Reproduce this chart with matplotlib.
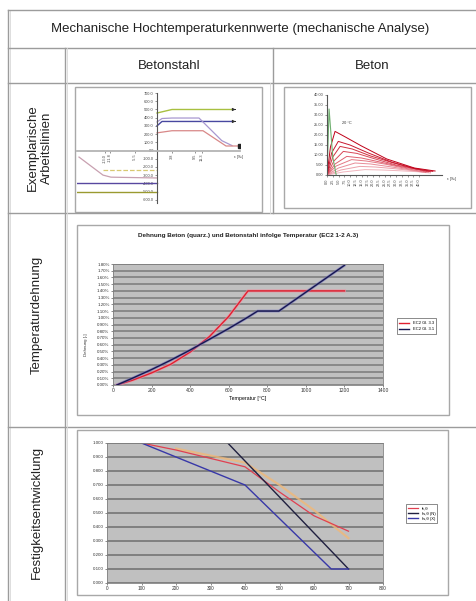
import matplotlib
matplotlib.use("Agg")
import matplotlib.pyplot as plt
from matplotlib.patches import Rectangle
import numpy as np

plt.rcParams['font.family'] = ['Liberation Sans', 'DejaVu Sans']

W, H = 476, 601

# ---------------- texts ----------------
title = "Mechanische Hochtemperaturkennwerte (mechanische Analyse)"
col_heads = ["Betonstahl", "Beton"]
row_heads = ["Exemplarische\nArbeitslinien", "Temperaturdehnung", "Festigkeitsentwicklung"]

# ---------------- Betonstahl stress-strain (tension / compression) ----------------
st_green_x = [0, 3.75, 18.75]
st_green_y = [457, 500, 500]
st_navy_x = [0, 1.25, 18.75]
st_navy_y = [300, 354, 354]
st_purple_x = [0, 1.25, 3.75, 10.5, 16.2, 18.75]
st_purple_y = [348, 390, 396, 396, 120, 60]
st_pink_x = [0, 3.75, 11.5, 17.25, 20.75]
st_pink_y = [215, 241, 241, 55, 55]
st_c_pink_x = [-19.5, -13.5, -11.5, 0]
st_c_pink_y = [-80, -300, -325, -335]
st_c_yellow_x = [-13.5, 0]
st_c_yellow_y = [-240, -240]
st_c_purple_x = [-20, 0]
st_c_purple_y = [-395, -395]
st_c_olive_x = [-20, 0]
st_c_olive_y = [-500, -500]
st_yticks = list(range(-600, 701, 100))
st_xticks = [-13.0, -11.75, -5.5, 3.75, 9.5, 11.25]
st_xticklabels = ["-13.0", "-11.8", "-5.5", "3.8", "9.5", "11.3"]

# ---------------- Beton stress-strain curves ----------------
bt_green_x = [0, 0.4, 0.9, 1.5, 2.5, 4.0]
bt_green_y = [0, 14, 33, 24, 9, 0]
bt_curves_x = [
    [0, 1.5, 3.5, 8, 15, 26, 38, 47],
    [0, 2.0, 4.9, 10, 18, 28, 38, 46],
    [0, 2.5, 5.7, 11, 19, 29, 39, 45],
    [0, 3.0, 7.1, 13, 21, 30, 40, 44],
    [0, 3.5, 8.6, 15, 23, 32, 40, 43],
    [0, 4.0, 10.7, 17, 25, 33, 41],
    [0, 5.0, 12.2, 19, 27, 35, 42],
    [0, 6.0, 14.3, 21, 29, 37, 43],
    [0, 7.0, 16.5, 24, 32, 40, 45],
]
bt_curves_y = [
    [0, 14, 21.8, 19, 14.5, 8, 3.5, 2.0],
    [0, 11, 16.8, 15, 11, 6.5, 3.2, 1.8],
    [0, 9, 14.3, 13, 9.5, 6, 3.0, 1.6],
    [0, 7, 11.8, 10.8, 8, 5, 2.8, 1.5],
    [0, 5.5, 9.3, 8.5, 6.5, 4.2, 2.5, 1.4],
    [0, 4.5, 7.7, 7, 5.5, 3.6, 1.8],
    [0, 3.5, 6.0, 5.5, 4.2, 2.8, 1.5],
    [0, 2.5, 4.3, 4.0, 3.2, 2.2, 1.2],
    [0, 1.5, 2.7, 2.5, 2.1, 1.6, 1.0],
]
bt_colors = ['#c00018', '#c81830', '#d03040', '#d84858', '#e06070',
             '#e47884', '#e88c98', '#eca0aa', '#f0b4bc']
bt_yticks = list(range(0, 41, 5))
bt_xticks = [2.5 * i for i in range(0, 17)]

# ---------------- Temperaturdehnung ----------------
td_title = "Dehnung Beton (quarz.) und Betonstahl infolge Temperatur (EC2 1-2 A.3)"
td_T_beton = [20, 100, 200, 300, 400, 500, 600, 700, 800, 900, 1000, 1100, 1200]
td_eps_beton = [0.00, 0.07, 0.18, 0.31, 0.49, 0.72, 1.02, 1.40, 1.40, 1.40, 1.40, 1.40, 1.40]
td_T_stahl = [20, 100, 200, 300, 400, 500, 600, 700, 750, 860, 900, 1000, 1100, 1200]
td_eps_stahl = [0.00, 0.10, 0.23, 0.37, 0.52, 0.68, 0.84, 1.01, 1.10, 1.10, 1.18, 1.38, 1.58, 1.78]
td_labels = ["EC2 Gl. 3.3", "EC2 Gl. 3.1"]
td_xticks = list(range(0, 1401, 200))
td_yticks = [i / 10 for i in range(0, 19)]

# ---------------- Festigkeitsentwicklung ----------------
fe_T_beton = [100, 200, 300, 400, 500, 600, 700]
fe_k_beton = [1.00, 0.95, 0.89, 0.83, 0.65, 0.48, 0.37]
fe_T_beton2 = [200, 300, 400, 500, 600, 700]
fe_k_beton2 = [0.96, 0.91, 0.86, 0.70, 0.52, 0.32]
fe_T_stahl_n = [350, 700]
fe_k_stahl_n = [1.00, 0.10]
fe_T_stahl_x = [100, 400, 650, 700]
fe_k_stahl_x = [1.00, 0.70, 0.10, 0.10]
fe_labels = ["fc,θ", "fs,θ (N)", "fs,θ (X)"]
fe_xticks = list(range(0, 801, 100))
fe_yticks = [i / 10 for i in range(0, 11)]

# =====================================================================
fig = plt.figure(figsize=(W / 100, H / 100), dpi=100)
fig.patch.set_facecolor('white')

bg = fig.add_axes([0, 0, 1, 1])
bg.set_xlim(0, W)
bg.set_ylim(H, 0)
bg.axis('off')

LC = '#9c9c9c'
# table grid
bg.plot([8, 8], [10, 601], color=LC, lw=1.0)
bg.plot([10, 10], [10, 601], color='#d8d8d8', lw=0.6)
for yy in [10, 48, 83, 213, 427]:
    bg.plot([8, 476], [yy, yy], color=LC, lw=1.0)
bg.plot([65, 65], [48, 601], color=LC, lw=1.0)
bg.plot([67, 67], [48, 601], color='#d8d8d8', lw=0.6)
bg.plot([273, 273], [48, 213], color=LC, lw=1.0)
bg.plot([270, 270], [83, 213], color='#d8d8d8', lw=0.6)

# chart frames
for (x0, y0, x1, y1) in [(75, 87, 262, 212), (284, 87, 471, 208),
                         (77, 225, 449, 415), (77, 430, 448, 595)]:
    bg.add_patch(Rectangle((x0, y0), x1 - x0, y1 - y0, facecolor='white',
                           edgecolor='#a8a8a8', lw=1.0))

bg.text(240, 29, title, ha='center', va='center', fontsize=9.5, color='#222222')
bg.text(169, 66, col_heads[0], ha='center', va='center', fontsize=9.5, color='#222222')
bg.text(372, 66, col_heads[1], ha='center', va='center', fontsize=9.5, color='#222222')
bg.text(40, 148, row_heads[0], ha='center', va='center', rotation=90,
        fontsize=9.5, color='#222222', linespacing=1.3)
bg.text(37, 315, row_heads[1], ha='center', va='center', rotation=90,
        fontsize=9.5, color='#222222')
bg.text(37, 512, row_heads[2], ha='center', va='center', rotation=90,
        fontsize=9.5, color='#222222')


def ax_px(x0, y0, x1, y1):
    return fig.add_axes([x0 / W, 1 - y1 / H, (x1 - x0) / W, (y1 - y0) / H])


TF = 2.8

# ---------------- Chart A: Betonstahl ----------------
axA = ax_px(77, 93, 240, 203)
axA.set_xlim(-20, 20.75)
axA.set_ylim(-640, 701)
axA.patch.set_alpha(0)
for s in ['top', 'right']:
    axA.spines[s].set_visible(False)
axA.spines['left'].set_position(('data', 0))
axA.spines['bottom'].set_position(('data', 0))
axA.spines['left'].set_color('#555555')
axA.spines['left'].set_linewidth(0.8)
axA.spines['bottom'].set_color('#b4b4b4')
axA.spines['bottom'].set_linewidth(1.3)
axA.set_yticks(st_yticks)
axA.set_yticklabels([f"{v:.1f}" for v in st_yticks], fontsize=TF)
axA.set_xticks(st_xticks)
axA.set_xticklabels(st_xticklabels, fontsize=TF, rotation=90)
axA.tick_params(length=1.5, width=0.4, pad=0.8, colors='#444444')
axA.plot(st_green_x, st_green_y, color='#a8c040', lw=1.0)
axA.plot(st_navy_x, st_navy_y, color='#4848a0', lw=1.0)
axA.plot(st_purple_x, st_purple_y, color='#a898d0', lw=0.9)
axA.plot(st_pink_x, st_pink_y, color='#d88888', lw=0.9)
axA.plot(st_c_pink_x, st_c_pink_y, color='#c8a0b0', lw=0.9)
axA.plot(st_c_yellow_x, st_c_yellow_y, color='#d8c870', lw=0.9, ls='--')
axA.plot(st_c_purple_x, st_c_purple_y, color='#5848a0', lw=1.0)
axA.plot(st_c_olive_x, st_c_olive_y, color='#9a9a30', lw=1.0)
for xs, ys in [(st_green_x, st_green_y), (st_navy_x, st_navy_y)]:
    axA.annotate('', xy=(xs[-1] + 1.6, ys[-1]), xytext=(xs[-1], ys[-1]),
                 arrowprops=dict(arrowstyle='-|>', color='#303030', lw=0.7,
                                 mutation_scale=4))
axA.plot(st_pink_x[-1], st_pink_y[-1], 's', ms=2.2, color='#222222')
axA.text(20.3, -60, "ε [‰]", fontsize=TF, ha='center', va='top', color='#444444')

# ---------------- Chart B: Beton ----------------
axB = ax_px(327, 95, 442, 175)
axB.set_xlim(0, 50)
axB.set_ylim(0, 40)
axB.patch.set_alpha(0)
for s in ['top', 'right']:
    axB.spines[s].set_visible(False)
for s in ['left', 'bottom']:
    axB.spines[s].set_color('#555555')
    axB.spines[s].set_linewidth(0.8)
axB.set_yticks(bt_yticks)
axB.set_yticklabels([f"{v:.2f}" for v in bt_yticks], fontsize=TF)
axB.set_xticks(bt_xticks)
axB.set_xticklabels([f"{v:.1f}" for v in bt_xticks], fontsize=TF, rotation=90)
axB.tick_params(length=1.5, width=0.4, pad=0.8, colors='#444444')
for xs, ys, c in zip(bt_curves_x[::-1], bt_curves_y[::-1], bt_colors[::-1]):
    axB.plot(xs, ys, color=c, lw=0.7)
axB.plot(bt_green_x, bt_green_y, color='#70b070', lw=0.8)
axB.text(bt_curves_x[0][2] + 3, bt_curves_y[0][2] + 3, "20 °C", fontsize=TF,
         color='#333333', ha='left', va='bottom')
axB.text(52, -1, "ε [‰]", fontsize=TF, ha='left', va='top', color='#444444')

# ---------------- Chart C: Temperaturdehnung ----------------
axC = ax_px(113, 264, 383, 385)
axC.set_facecolor('#c0c0c0')
axC.set_xlim(0, 1400)
axC.set_ylim(0, 1.8)
axC.set_yticks(td_yticks)
axC.set_yticklabels([f"{v:.2f}%" for v in td_yticks], fontsize=3.2)
axC.set_xticks(td_xticks)
axC.set_xticklabels([str(v) for v in td_xticks], fontsize=3.6)
axC.yaxis.grid(True, color='#7a7a7a', lw=1.1)
axC.set_axisbelow(True)
for s in axC.spines.values():
    s.set_color('#808080')
    s.set_linewidth(0.6)
axC.tick_params(length=1.5, width=0.4, pad=1, colors='#333333')
axC.plot(td_T_beton, td_eps_beton, color='#f090a0', lw=2.2, alpha=0.7)
axC.plot(td_T_beton, td_eps_beton, color='#e02030', lw=1.0, label=td_labels[0])
axC.plot(td_T_stahl, td_eps_stahl, color='#7070c0', lw=2.0, alpha=0.6)
axC.plot(td_T_stahl, td_eps_stahl, color='#181850', lw=1.0, label=td_labels[1])
axC.set_xlabel("Temperatur [°C]", fontsize=3.8, labelpad=2)
bg.text(86, 345, "Dehnung [-]", rotation=90, fontsize=3.2, ha='center', va='center',
        color='#333333')
bg.text(248, 235, td_title, fontsize=4.6, fontweight='bold', ha='center', va='center',
        color='#222222')
legC = axC.legend(loc='center', bbox_to_anchor=(416.5 / W, 1 - 326 / H),
                  bbox_transform=fig.transFigure, fontsize=3, frameon=True,
                  fancybox=False, edgecolor='#333333', handlelength=2.5,
                  borderpad=0.6, labelspacing=0.5)
legC.get_frame().set_linewidth(0.5)

# ---------------- Chart D: Festigkeitsentwicklung ----------------
axD = ax_px(107, 443, 383, 583)
axD.set_facecolor('#c0c0c0')
axD.set_xlim(0, 800)
axD.set_ylim(0, 1.0)
axD.set_yticks(fe_yticks)
axD.set_yticklabels([f"{v:.3f}" for v in fe_yticks], fontsize=3.2)
axD.set_xticks(fe_xticks)
axD.set_xticklabels([str(v) for v in fe_xticks], fontsize=3.4)
axD.yaxis.grid(True, color='#6e6e6e', lw=1.1)
axD.set_axisbelow(True)
for s in axD.spines.values():
    s.set_color('#808080')
    s.set_linewidth(0.6)
axD.tick_params(length=1.5, width=0.4, pad=1, colors='#333333')
axD.plot(fe_T_beton2, fe_k_beton2, color='#f0b878', lw=1.6, alpha=0.8)
axD.plot(fe_T_beton, fe_k_beton, color='#e04050', lw=0.9, label=fe_labels[0])
axD.plot(fe_T_stahl_n, fe_k_stahl_n, color='#202040', lw=1.0, label=fe_labels[1])
axD.plot(fe_T_stahl_x, fe_k_stahl_x, color='#3838a8', lw=1.0, label=fe_labels[2])
legD = axD.legend(loc='center', bbox_to_anchor=(421.5 / W, 1 - 513.5 / H),
                  bbox_transform=fig.transFigure, fontsize=3, frameon=True,
                  fancybox=False, edgecolor='#333333', handlelength=2.5,
                  borderpad=0.5, labelspacing=0.3)
legD.get_frame().set_linewidth(0.5)

fig.savefig("out.png", dpi=100)
